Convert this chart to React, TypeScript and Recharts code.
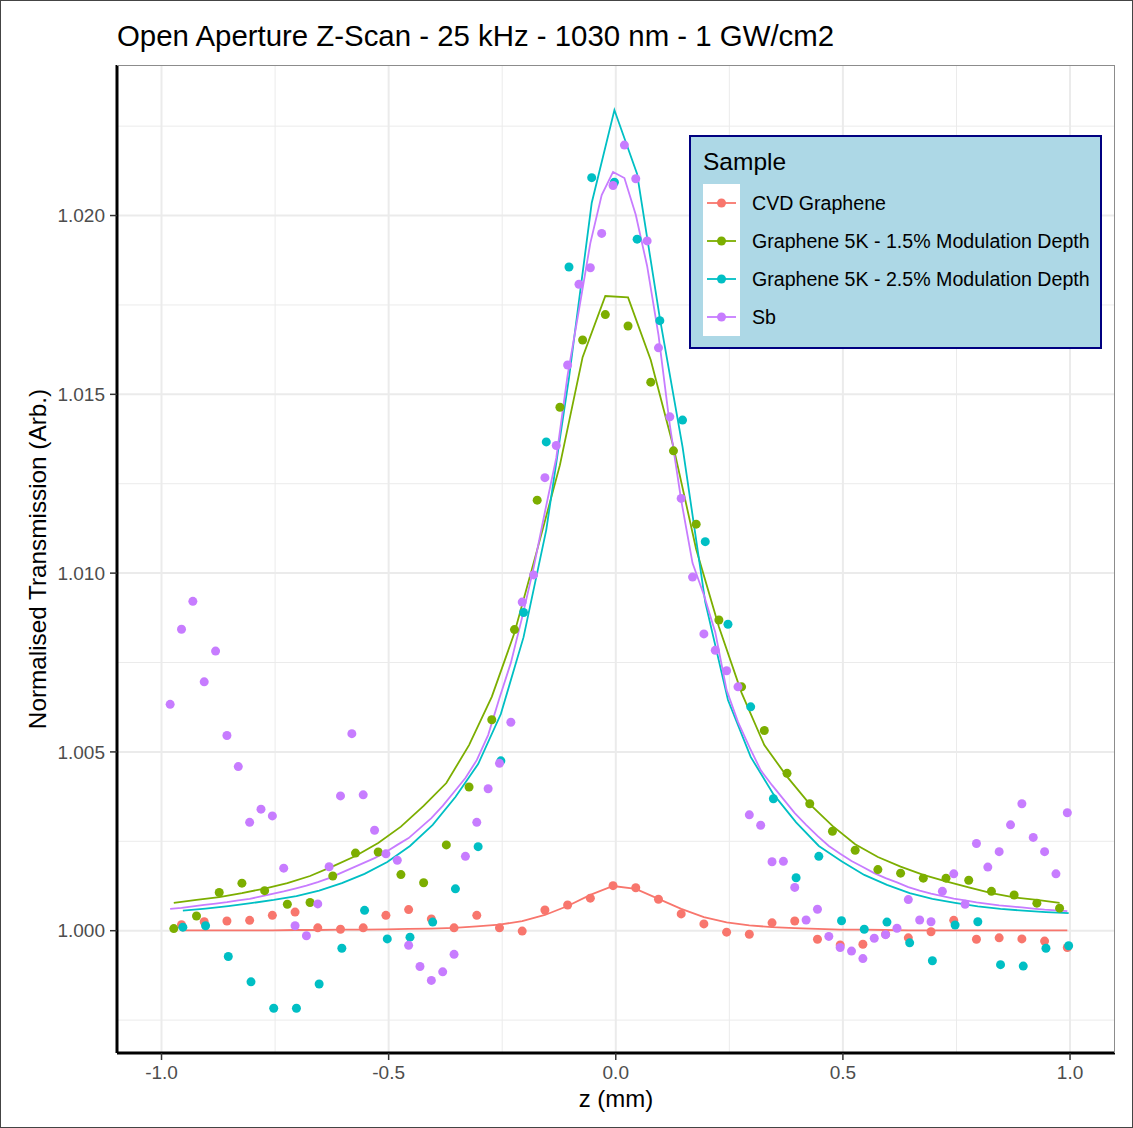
import { CartesianGrid, ComposedChart, Line, Scatter, XAxis, YAxis } from "recharts";

const FONT = "'Liberation Sans', Arial, sans-serif";

const SAMPLES = [
  "CVD Graphene",
  "Graphene 5K - 1.5% Modulation Depth",
  "Graphene 5K - 2.5% Modulation Depth",
  "Sb",
];
const COLORS = ["#F8766D", "#7CAE00", "#00BFC4", "#C77CFF"];

const X_TICKS = [-1, -0.5, 0, 0.5, 1];
const X_MINOR = [-0.75, -0.25, 0.25, 0.75];
const Y_TICKS = [1.0, 1.005, 1.01, 1.015, 1.02];
const Y_MINOR = [0.9975, 1.0025, 1.0075, 1.0125, 1.0175, 1.0225];

// CVD Graphene
const cvdZ = [
  -0.956, -0.906, -0.856, -0.806, -0.756, -0.706, -0.656, -0.606, -0.556, -0.506,
  -0.456, -0.406, -0.356, -0.306, -0.256, -0.206, -0.156, -0.106, -0.056, -0.006,
  0.044, 0.094, 0.144, 0.194, 0.244, 0.294, 0.344, 0.394, 0.444, 0.494,
  0.544, 0.594, 0.644, 0.694, 0.744, 0.794, 0.844, 0.894, 0.944, 0.994,
];
const cvdT = [
  1.00017, 1.00025, 1.00027, 1.00029, 1.00043, 1.00052, 1.00008, 1.00004, 1.00008, 1.00043,
  1.00059, 1.00033, 1.00008, 1.00043, 1.00008, 0.99999, 1.00058, 1.00072, 1.00091, 1.00126,
  1.0012, 1.00088, 1.00047, 1.00019, 0.99996, 0.9999, 1.00022, 1.00027, 0.99976, 0.9996,
  0.99962, 0.9999, 0.9998, 0.99997, 1.00029, 0.99976, 0.9998, 0.99977, 0.99971, 0.99953,
];
const cvdFit = [
  1.00001, 1.00001, 1.00001, 1.00001, 1.00001, 1.00002, 1.00002, 1.00003, 1.00003, 1.00004,
  1.00005, 1.00006, 1.00008, 1.00012, 1.00017, 1.00027, 1.00044, 1.00069, 1.001, 1.00125,
  1.00117, 1.00089, 1.00061, 1.00038, 1.00023, 1.00015, 1.0001, 1.00007, 1.00005, 1.00003,
  1.00003, 1.00002, 1.00001, 1.00001, 1.00001, 1.00001, 1.00001, 1.00001, 1.00001, 1.00001,
];

// Graphene 5K - 1.5%
const g15Z = [
  -0.973, -0.923, -0.873, -0.823, -0.773, -0.723, -0.673, -0.623, -0.573, -0.523,
  -0.473, -0.423, -0.373, -0.323, -0.273, -0.223, -0.173, -0.123, -0.073, -0.023,
  0.027, 0.077, 0.127, 0.177, 0.227, 0.277, 0.327, 0.377, 0.427, 0.477,
  0.527, 0.577, 0.627, 0.677, 0.727, 0.777, 0.827, 0.877, 0.927, 0.977,
];
const g15T = [
  1.00006, 1.00041, 1.00107, 1.00133, 1.00112, 1.00074, 1.00079, 1.00153, 1.00217, 1.0022,
  1.00157, 1.00134, 1.0024, 1.00402, 1.0059, 1.00842, 1.01204, 1.01464, 1.01652, 1.01723,
  1.01691, 1.01534, 1.01342, 1.01137, 1.00869, 1.00682, 1.0056, 1.0044, 1.00355, 1.00278,
  1.00225, 1.00171, 1.00161, 1.00147, 1.00147, 1.00141, 1.0011, 1.001, 1.00077, 1.00063,
];
const g15Fit = [
  1.00078, 1.00086, 1.00094, 1.00105, 1.00118, 1.00133, 1.00153, 1.0018, 1.00209, 1.00245,
  1.00291, 1.00349, 1.00413, 1.00519, 1.00654, 1.00833, 1.01065, 1.01302, 1.01604, 1.01775,
  1.01771, 1.01596, 1.01353, 1.01067, 1.0085, 1.00665, 1.00519, 1.00431, 1.00354, 1.00293,
  1.00242, 1.00206, 1.00179, 1.00156, 1.00138, 1.00121, 1.00105, 1.00093, 1.00086, 1.00078,
];

// Graphene 5K - 2.5%
const g25Z = [
  -0.953, -0.903, -0.853, -0.803, -0.753, -0.703, -0.653, -0.603, -0.553, -0.503,
  -0.453, -0.403, -0.353, -0.303, -0.253, -0.203, -0.153, -0.103, -0.053, -0.003,
  0.047, 0.097, 0.147, 0.197, 0.247, 0.297, 0.347, 0.397, 0.447, 0.497,
  0.547, 0.597, 0.647, 0.697, 0.747, 0.797, 0.847, 0.897, 0.947, 0.997,
];
const g25T = [
  1.0001, 1.00014, 0.99928, 0.99857, 0.99783, 0.99783, 0.99851, 0.99951, 1.00057, 0.99977,
  0.99982, 1.00024, 1.00117, 1.00235, 1.00475, 1.0089, 1.01367, 1.01856, 1.02106, 1.02093,
  1.01934, 1.01706, 1.01428, 1.01088, 1.00857, 1.00626, 1.00369, 1.00148, 1.00208, 1.00028,
  1.00004, 1.00024, 0.99966, 0.99916, 1.00016, 1.00025, 0.99905, 0.99901, 0.99951, 0.99958,
];
const g25Fit = [
  1.00056, 1.00062, 1.00069, 1.00077, 1.00086, 1.00097, 1.00112, 1.00133, 1.00159, 1.00192,
  1.00237, 1.00296, 1.00374, 1.00466, 1.00606, 1.00821, 1.01121, 1.01546, 1.02035, 1.02295,
  1.02116, 1.01713, 1.01353, 1.00919, 1.00645, 1.00486, 1.00382, 1.00303, 1.00237, 1.00194,
  1.00156, 1.00128, 1.00105, 1.00089, 1.00078, 1.00068, 1.00061, 1.00056, 1.00052, 1.00049,
];

// Sb
const sbZ = [
  -0.981, -0.956, -0.931, -0.906, -0.881, -0.856, -0.831, -0.806, -0.781, -0.756,
  -0.731, -0.706, -0.681, -0.656, -0.631, -0.606, -0.581, -0.556, -0.531, -0.506,
  -0.481, -0.456, -0.431, -0.406, -0.381, -0.356, -0.331, -0.306, -0.281, -0.256,
  -0.231, -0.206, -0.181, -0.156, -0.131, -0.106, -0.081, -0.056, -0.031, -0.006,
  0.019, 0.044, 0.069, 0.094, 0.119, 0.144, 0.169, 0.194, 0.219, 0.244,
  0.269, 0.294, 0.319, 0.344, 0.369, 0.394, 0.419, 0.444, 0.469, 0.494,
  0.519, 0.544, 0.569, 0.594, 0.619, 0.644, 0.669, 0.694, 0.719, 0.744,
  0.769, 0.794, 0.819, 0.844, 0.869, 0.894, 0.919, 0.944, 0.969, 0.994,
];
const sbT = [
  1.00633, 1.00843, 1.00921, 1.00696, 1.00782, 1.00546, 1.00459, 1.00303, 1.0034, 1.00321,
  1.00175, 1.00014, 0.99986, 1.00075, 1.00179, 1.00377, 1.00551, 1.0038, 1.00281, 1.00215,
  1.00197, 0.99959, 0.999, 0.99861, 0.99885, 0.99934, 1.00208, 1.00303, 1.00397, 1.00468,
  1.00583, 1.00919, 1.00995, 1.01267, 1.01357, 1.01582, 1.01808, 1.01854, 1.0195, 1.02084,
  1.02197, 1.02103, 1.01929, 1.0163, 1.01437, 1.01209, 1.00989, 1.0083, 1.00784, 1.00727,
  1.00682, 1.00324, 1.00295, 1.00193, 1.00194, 1.00121, 1.0003, 1.0006, 0.99984, 0.99953,
  0.99943, 0.99922, 0.99979, 0.99989, 1.00007, 1.00087, 1.0003, 1.00025, 1.0011, 1.00159,
  1.00074, 1.00244, 1.00178, 1.00221, 1.00296, 1.00355, 1.00261, 1.00221, 1.00159, 1.0033,
];
const sbFit = [
  1.00061, 1.00064, 1.00068, 1.00072, 1.00076, 1.0008, 1.00085, 1.00089, 1.00096, 1.00103,
  1.0011, 1.00118, 1.00126, 1.00136, 1.00147, 1.00161, 1.00175, 1.00189, 1.00203, 1.0022,
  1.0024, 1.00259, 1.00287, 1.00315, 1.00349, 1.00388, 1.00427, 1.00477, 1.00547, 1.00651,
  1.00749, 1.00877, 1.01014, 1.01171, 1.01322, 1.01554, 1.01736, 1.01923, 1.02057, 1.02122,
  1.02105, 1.02002, 1.01859, 1.01666, 1.01414, 1.01204, 1.01028, 1.00939, 1.00835, 1.00673,
  1.00584, 1.00514, 1.00449, 1.00407, 1.00368, 1.00329, 1.00296, 1.00265, 1.00237, 1.00215,
  1.00195, 1.00178, 1.00161, 1.00147, 1.00135, 1.00122, 1.00112, 1.00104, 1.00097, 1.0009,
  1.00085, 1.00079, 1.00075, 1.00071, 1.00068, 1.00065, 1.00062, 1.00059, 1.00057, 1.00055,
];

type Pt = { z: number; t: number };
const rows = (z: number[], t: number[]): Pt[] => z.map((v, i) => ({ z: v, t: t[i] }));

const series = [
  { points: rows(cvdZ, cvdT), fit: rows(cvdZ, cvdFit) },
  { points: rows(g15Z, g15T), fit: rows(g15Z, g15Fit) },
  { points: rows(g25Z, g25T), fit: rows(g25Z, g25Fit) },
  { points: rows(sbZ, sbT), fit: rows(sbZ, sbFit) },
];

const W = 1133;
const H = 1128;

const tickStyle = { fill: "#4D4D4D", fontSize: 19, fontFamily: FONT };

function dot(color: string) {
  return (p: any) => <circle cx={p.cx} cy={p.cy} r={4.5} fill={color} />;
}

function LegendBox() {
  const rowsY = [203, 241, 279, 317];
  return (
    <g fontFamily={FONT}>
      <rect x={690} y={136} width={411} height={212} fill="#ADD8E6" stroke="#000080" strokeWidth={2} />
      <text x={703} y={170} fontSize={24.5} fill="#000">Sample</text>
      <rect x={703} y={184} width={37} height={152} fill="#fff" />
      {SAMPLES.map((s, i) => (
        <g key={s}>
          <line x1={707} x2={736} y1={rowsY[i]} y2={rowsY[i]} stroke={COLORS[i]} strokeWidth={1.8} />
          <circle cx={721.5} cy={rowsY[i]} r={4.5} fill={COLORS[i]} />
          <text x={752} y={rowsY[i] + 7} fontSize={19.6} fill="#000">{s}</text>
        </g>
      ))}
    </g>
  );
}

export default function App() {
  return (
    <div style={{ position: "absolute", left: 0, top: 0, width: W, height: H, background: "#fff" }}>
      <ComposedChart width={W} height={H} margin={{ top: 65, right: 18, bottom: 0, left: 0 }}>
        <CartesianGrid verticalValues={X_MINOR} horizontalValues={Y_MINOR} stroke="#EBEBEB" strokeWidth={1} />
        <CartesianGrid verticalValues={X_TICKS} horizontalValues={Y_TICKS} stroke="#EBEBEB" strokeWidth={2} />
        <XAxis
          type="number"
          dataKey="z"
          domain={[-1.098, 1.099]}
          allowDataOverflow
          ticks={X_TICKS}
          tickFormatter={(v: number) => v.toFixed(1)}
          height={75}
          tick={tickStyle}
          tickSize={7}
          tickMargin={6}
          axisLine={{ stroke: "#000", strokeWidth: 3 }}
          tickLine={{ stroke: "#333", strokeWidth: 1.5 }}
        />
        <YAxis
          type="number"
          dataKey="t"
          domain={[0.99658, 1.02421]}
          allowDataOverflow
          ticks={Y_TICKS}
          tickFormatter={(v: number) => v.toFixed(3)}
          width={117}
          tick={tickStyle}
          tickSize={7}
          tickMargin={5}
          axisLine={{ stroke: "#000", strokeWidth: 3 }}
          tickLine={{ stroke: "#333", strokeWidth: 1.5 }}
        />
        {series.map((s, i) => (
          <Scatter
            key={`pts-${i}`}
            name={SAMPLES[i]}
            data={s.points}
            dataKey="t"
            fill={COLORS[i]}
            shape={dot(COLORS[i])}
            isAnimationActive={false}
          />
        ))}
        {series.map((s, i) => (
          <Line
            key={`fit-${i}`}
            data={s.fit}
            dataKey="t"
            type="linear"
            stroke={COLORS[i]}
            strokeWidth={1.8}
            dot={false}
            activeDot={false}
            isAnimationActive={false}
          />
        ))}
      </ComposedChart>
      <svg width={W} height={H} style={{ position: "absolute", left: 0, top: 0, pointerEvents: "none" }}>
        <rect x={0.5} y={0.5} width={W - 1} height={H - 1} fill="none" stroke="#444" strokeWidth={1} />
        <line x1={117} x2={1115} y1={65.5} y2={65.5} stroke="#8c8c8c" strokeWidth={1} />
        <line x1={1114.5} x2={1114.5} y1={65} y2={1053} stroke="#8c8c8c" strokeWidth={1} />
        <text x={117} y={46} fontFamily={FONT} fontSize={29.4} fill="#000">
          Open Aperture Z-Scan - 25 kHz - 1030 nm - 1 GW/cm2
        </text>
        <text x={616} y={1107} fontFamily={FONT} fontSize={24} fill="#000" textAnchor="middle">
          z (mm)
        </text>
        <text
          x={0}
          y={0}
          transform="translate(46 559) rotate(-90)"
          fontFamily={FONT}
          fontSize={24.3}
          fill="#000"
          textAnchor="middle"
        >
          Normalised Transmission (Arb.)
        </text>
        <LegendBox />
      </svg>
    </div>
  );
}
